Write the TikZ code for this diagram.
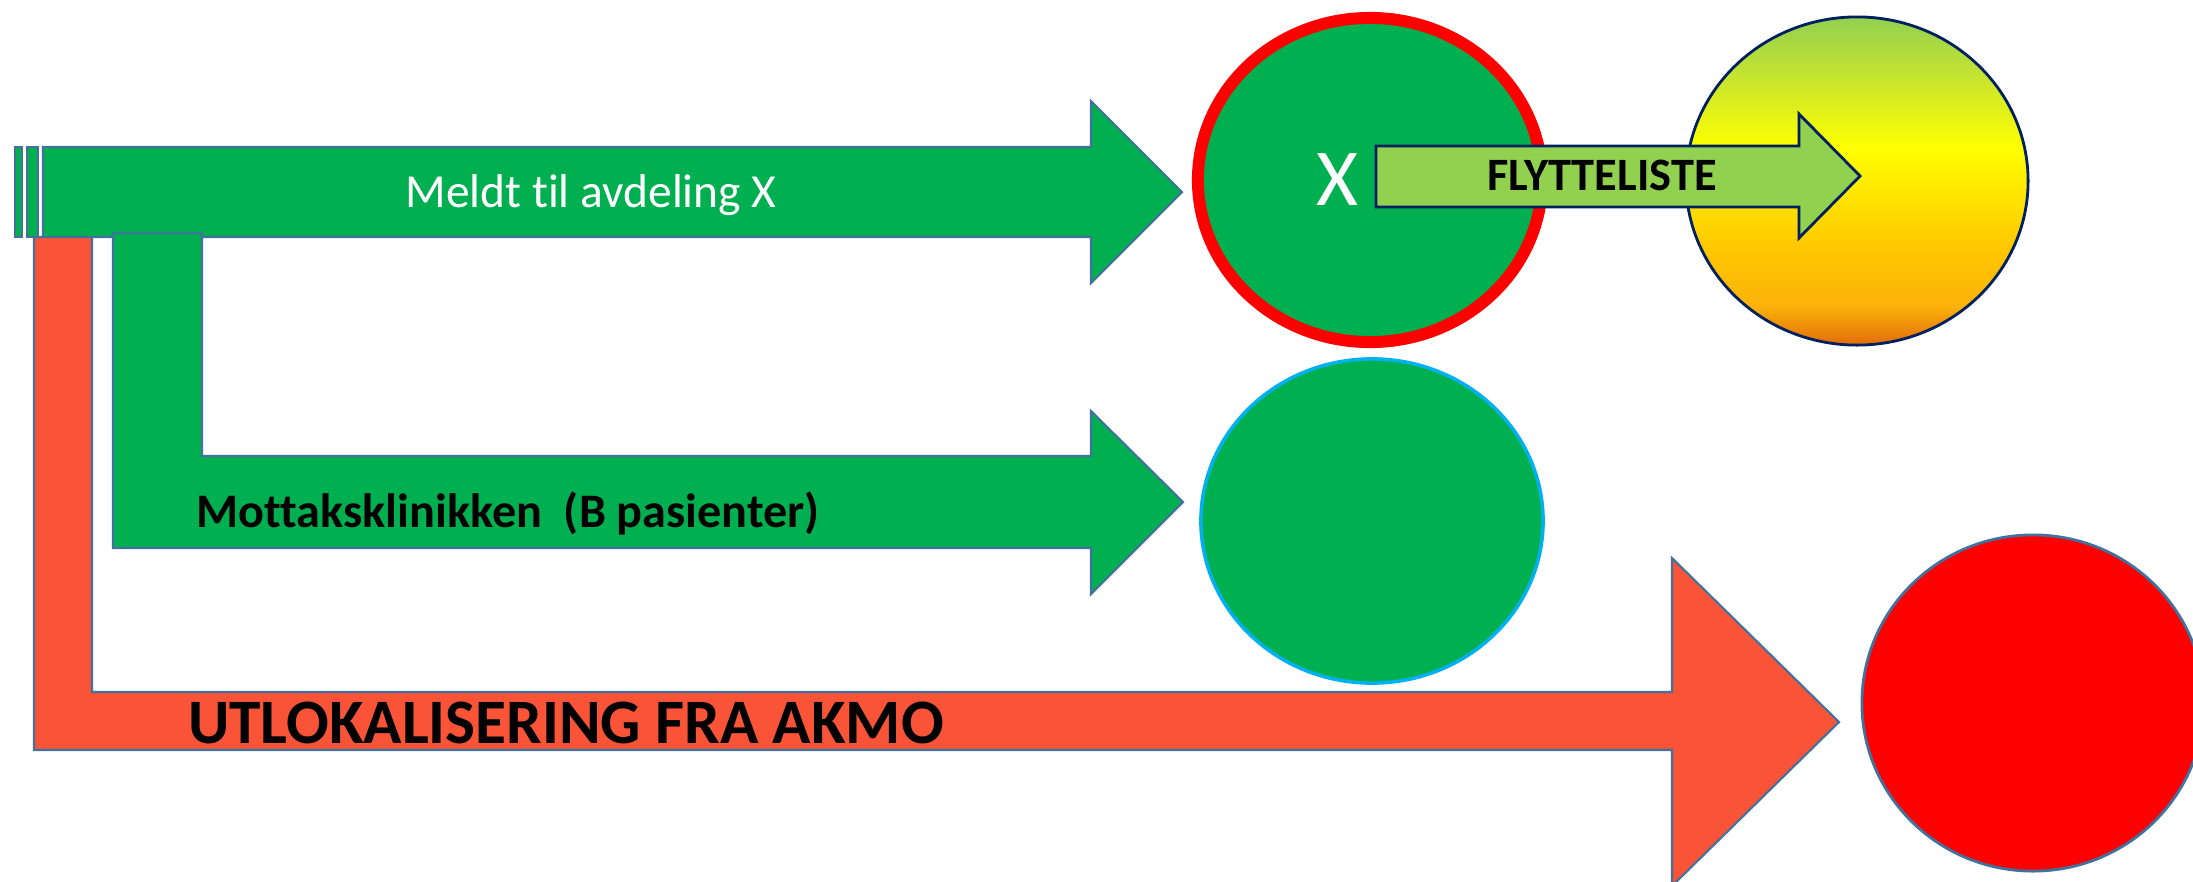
\documentclass[tikz,border=0pt]{standalone}
\usepackage{fontspec}
\setmainfont{Carlito}[Ligatures={NoCommon}]
\usetikzlibrary{shapes.geometric}

\definecolor{pptgreen}{HTML}{00B050}
\definecolor{pptred}{HTML}{FA5438}
\definecolor{edgeblue}{HTML}{41719C}
\definecolor{lightgreen}{HTML}{92D050}
\definecolor{navy}{HTML}{002060}
\definecolor{skyblue}{HTML}{00B0F0}
\definecolor{tlbottom}{HTML}{E36C0A}
\definecolor{tlorange}{HTML}{FBB20A}
\definecolor{tlgold}{HTML}{FFC800}
\definecolor{tlyellow}{HTML}{FFFF00}
\definecolor{tllime}{HTML}{C6E430}
\definecolor{tltop}{HTML}{92D050}

\pgfdeclareverticalshading{trafficlight}{100bp}{color(0bp)=(tlbottom); color(25bp)=(tlbottom); color(31bp)=(tlorange); color(40bp)=(tlgold); color(55bp)=(tlyellow); color(66bp)=(tllime); color(75bp)=(tltop); color(100bp)=(tltop)}

\begin{document}
\begin{tikzpicture}[x=0.01cm,y=-0.01cm,
		blockarrow/.style={draw=edgeblue,line width=0.6pt,line join=miter},
		oval/.style={ellipse,inner sep=0pt,outer sep=0pt}]
		\useasboundingbox (0,0) rectangle (2193,881);

		\draw[blockarrow,fill=pptgreen] (15,147) rectangle (22,237);
		\draw[blockarrow,fill=pptgreen] (27,147) rectangle (38,237);
		\draw[blockarrow,fill=pptgreen] (43,147) -- (1091,147) -- (1091,101) -- (1182,192) -- (1091,283) -- (1091,237) -- (43,237) -- cycle;
		\draw[blockarrow,fill=pptred] (34,237) -- (92,237) -- (92,692) -- (1672,692) -- (1672,558) -- (1839,722) -- (1672,886) -- (1672,750) -- (34,750) -- cycle;
		\draw[blockarrow,fill=pptgreen] (113,233) -- (202,233) -- (202,456) -- (1091,456) -- (1091,411) -- (1183,502) -- (1091,594) -- (1091,548) -- (113,548) -- cycle;

		\node (avd) at (1370,180)[oval,draw=red,line width=3.4pt,fill=pptgreen,minimum width=3.44cm,minimum height=3.24cm]{};
		\node (mottak) at (1372,521)[oval,draw=skyblue,line width=1pt,fill=pptgreen,minimum width=3.42cm,minimum height=3.24cm]{};
		\node (flytt) at (1857,181)[oval,draw=navy,line width=0.8pt,shade,shading=trafficlight,minimum width=3.42cm,minimum height=3.28cm]{};
		\node (akmo) at (2033,703)[oval,draw=edgeblue,line width=0.8pt,fill=red,minimum width=3.42cm,minimum height=3.36cm]{};

		\draw[draw=navy,line width=0.8pt,line join=miter,fill=lightgreen] (1376,146) -- (1799,146) -- (1799,114) -- (1860,176) -- (1799,238) -- (1799,207) -- (1376,207) -- cycle;

		\node (meldt) at (591,207)[anchor=base,text=white,font=\fontsize{13.5}{16}\selectfont]{Meldt til avdeling X};
		\node (x) at (1337,205)[anchor=base,text=white,font=\fontsize{23}{28}\selectfont]{X};
		\node (flyttlabel) at (1602,190)[anchor=base,font=\bfseries\fontsize{13.2}{16}\selectfont]{FLYTTELISTE};
		\node (mottaklabel) at (508,527)[anchor=base,font=\bfseries\fontsize{13.7}{16}\selectfont]{Mottaksklinikken\ \ (B pasienter)};
		\node (akmolabel) at (566,743)[anchor=base,font=\bfseries\fontsize{18}{22}\selectfont]{UTLOKALISERING FRA AKMO};
\end{tikzpicture}
\end{document}
